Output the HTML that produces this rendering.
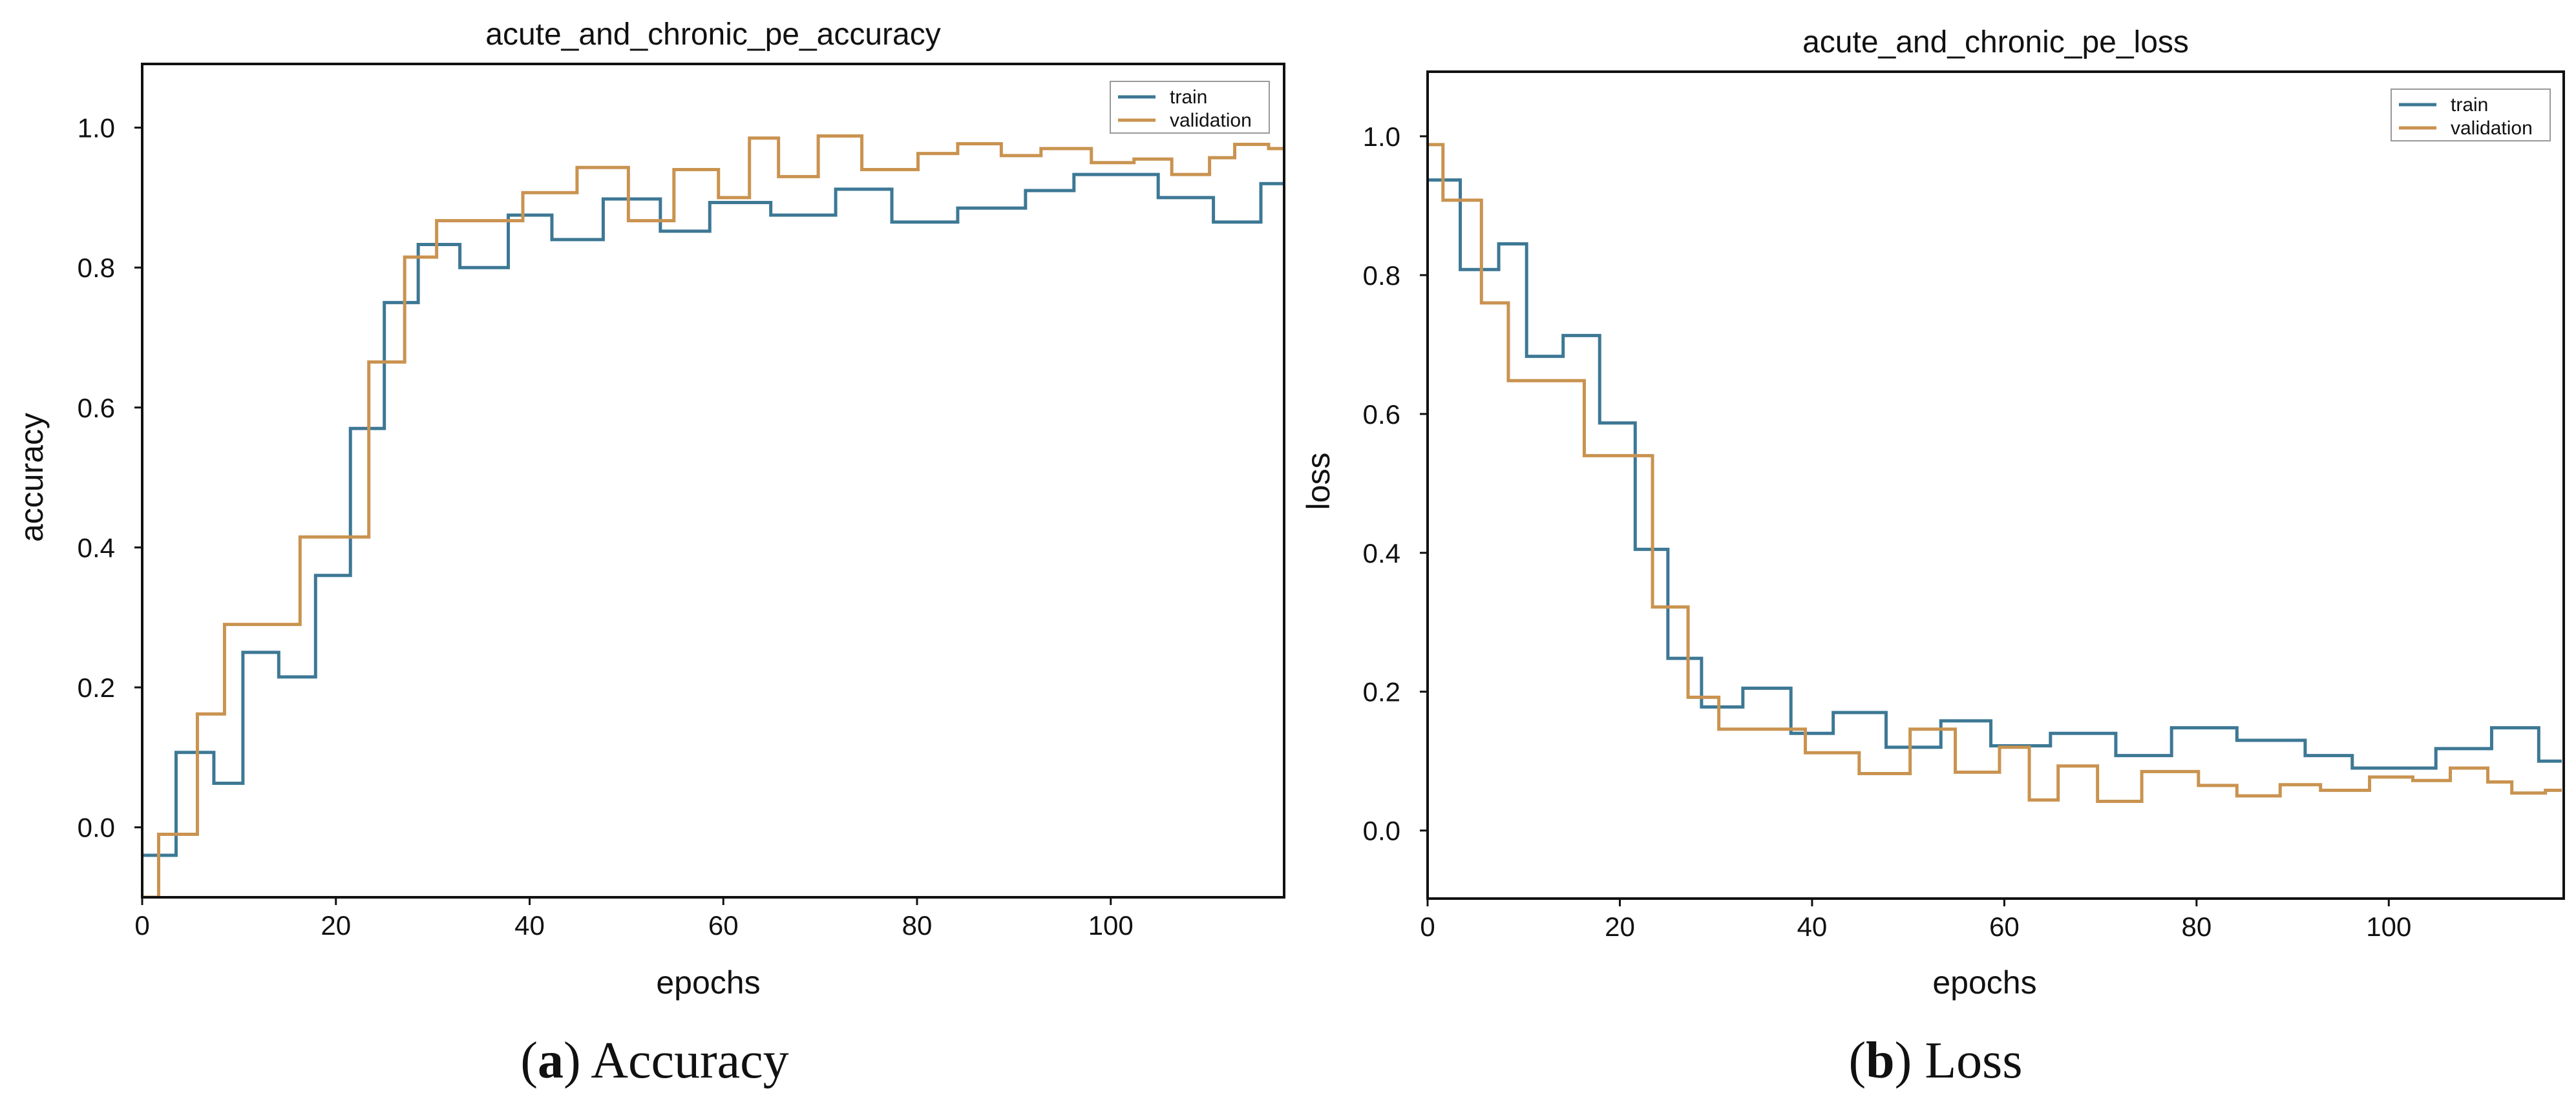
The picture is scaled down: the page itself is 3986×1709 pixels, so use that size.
<!DOCTYPE html>
<html><head><meta charset="utf-8"><style>
html,body{margin:0;padding:0;background:#fff}
svg{display:block}
text{font-family:"Liberation Sans",sans-serif;fill:#111}
</style></head><body>
<svg id="fig" width="3986" height="1709" viewBox="0 0 3986 1709" xmlns="http://www.w3.org/2000/svg"></svg>
<script>
// ---- Accuracy data (step edges in epochs, values) ----
const accTrainEdges=[0,3.5,7.4,10.4,14.1,17.9,21.5,25,28.5,32.8,37.8,42.3,47.6,53.5,58.6,64.9,71.6,77.4,84.2,91.2,96.2,104.9,110.6,115.5,118];
const accTrainVals=[-0.04,0.107,0.063,0.25,0.215,0.36,0.57,0.75,0.833,0.80,0.875,0.84,0.898,0.852,0.893,0.875,0.912,0.865,0.885,0.91,0.933,0.90,0.865,0.92];
const accValEdges=[0,1.7,5.7,8.5,16.3,23.4,27.1,30.4,39.3,44.9,50.2,54.9,59.5,62.7,65.7,69.8,74.3,80.1,84.2,88.7,92.8,98,102.4,106.3,110.2,112.8,116.3,118];
const accValVals=[-0.1,-0.01,0.162,0.29,0.415,0.665,0.815,0.867,0.907,0.943,0.867,0.94,0.90,0.985,0.93,0.988,0.94,0.963,0.977,0.96,0.97,0.95,0.955,0.933,0.957,0.976,0.97];
// ---- Loss data ----
const lossTrainEdges=[0,3.4,7.4,10.3,14.1,17.9,21.6,25,28.5,32.8,37.8,42.2,47.7,53.4,58.6,64.8,71.6,77.4,84.2,91.3,96.2,104.9,110.7,115.6,118];
const lossTrainVals=[0.937,0.808,0.845,0.683,0.713,0.587,0.405,0.248,0.178,0.205,0.14,0.17,0.12,0.158,0.122,0.14,0.108,0.148,0.13,0.108,0.09,0.118,0.148,0.10];
const lossValEdges=[0,1.6,5.6,8.4,16.3,23.4,27.1,30.3,39.3,44.9,50.2,54.9,59.5,62.6,65.6,69.7,74.3,80.2,84.2,88.7,92.9,98,102.5,106.4,110.3,112.8,116.3,118];
const lossValVals=[0.988,0.908,0.76,0.648,0.54,0.322,0.192,0.146,0.112,0.082,0.146,0.084,0.12,0.044,0.093,0.042,0.085,0.065,0.05,0.066,0.058,0.077,0.072,0.09,0.07,0.054,0.058];
const xTicks=[0,20,40,60,80,100];
const yTicks=[0.0,0.2,0.4,0.6,0.8,1.0];

const NS="http://www.w3.org/2000/svg";
const svg=document.getElementById('fig');
function mk(tag,attrs,parent,txt){const e=document.createElementNS(NS,tag);for(const k in attrs)e.setAttribute(k,attrs[k]);if(txt!==undefined)e.textContent=txt;(parent||svg).appendChild(e);return e;}

function panel(cfg){
  const g=mk('g',{});
  
  
  const {x0,x1,y0,y1,xmin,xmax,ymin,ymax}=cfg;
  const X=v=>x0+(v-xmin)/(xmax-xmin)*(x1-x0);
  const Y=v=>y1-(v-ymin)/(ymax-ymin)*(y1-y0);
  const clipId='clip-'+cfg.name;
  const cp=mk('clipPath',{id:clipId},g);mk('rect',{x:x0,y:y0,width:x1-x0,height:y1-y0},cp);
  function step(edges,vals,color,nm){
    let d='';
    for(let i=0;i<vals.length;i++){
      d+=(i===0?'M':'L')+X(edges[i])+' '+Y(vals[i])+' L'+X(edges[i+1])+' '+Y(vals[i]);
    }
    const p=mk('path',{d:d,fill:'none',stroke:color,'stroke-width':5,'clip-path':'url(#'+clipId+')'},g);
    
    
  }
  step(cfg.tE,cfg.tV,'#3d7895',cfg.name+'-train-line');
  step(cfg.vE,cfg.vV,'#c99350',cfg.name+'-validation-line');
  const fr=mk('rect',{x:x0,y:y0,width:x1-x0,height:y1-y0,fill:'none',stroke:'#111','stroke-width':4},g);
  
  
  xTicks.forEach(t=>{
    mk('line',{x1:X(t),x2:X(t),y1:y1,y2:y1+12,stroke:'#111','stroke-width':3},g);
    const tx=mk('text',{x:X(t),y:y1+58,'text-anchor':'middle','font-size':42},g,String(t));
    
    
  });
  yTicks.forEach(t=>{
    mk('line',{x1:x0-12,x2:x0,y1:Y(t),y2:Y(t),stroke:'#111','stroke-width':3},g);
    const tx=mk('text',{x:x0-42,y:Y(t)+15,'text-anchor':'end','font-size':42},g,t.toFixed(1));
    
    
  });
  const ti=mk('text',{x:(x0+x1)/2,y:y0-30,'text-anchor':'middle','font-size':48},g,cfg.title);
  
  
  const xl=mk('text',{x:cfg.xlx,y:1538,'text-anchor':'middle','font-size':50},g,'epochs');
  
  
  const yl=mk('text',{x:0,y:0,'text-anchor':'middle','font-size':50,transform:'translate('+(cfg.ylx+17)+','+cfg.yly+') rotate(-90)'},g,cfg.ylabel);
  
  
  // legend
  const lg=mk('g',{},g);
  
  
  const L=cfg.leg;
  mk('rect',{x:L[0],y:L[1],width:246,height:80,fill:'#fff',stroke:'#999','stroke-width':2},lg);
  mk('line',{x1:L[0]+12,x2:L[0]+70,y1:L[1]+24,y2:L[1]+24,stroke:'#3d7895','stroke-width':5},lg);
  mk('line',{x1:L[0]+12,x2:L[0]+70,y1:L[1]+60,y2:L[1]+60,stroke:'#c99350','stroke-width':5},lg);
  const e1=mk('text',{x:L[0]+92,y:L[1]+34,'font-size':30},lg,'train');
  
  
  const e2=mk('text',{x:L[0]+92,y:L[1]+70,'font-size':30},lg,'validation');
  
  
  // caption
  const cap=mk('text',{x:cfg.capx,y:1668,'text-anchor':'middle','font-size':80,style:'font-family:"Liberation Serif",serif'},g);
  const b=mk('tspan',{},cap,'(');
  const bb=mk('tspan',{'font-weight':'bold'},cap,cfg.letter);
  mk('tspan',{},cap,') '+cfg.caption);
  
  
}

panel({name:'accuracy',x0:220,x1:1987,y0:99,y1:1389,xmin:0,xmax:117.9,ymin:-0.1,ymax:1.091,
  tE:accTrainEdges,tV:accTrainVals,vE:accValEdges,vV:accValVals,title:'acute_and_chronic_pe_accuracy',
  ylabel:'accuracy',xlx:1096,ylx:49,yly:739,leg:[1718,126],capx:1013,letter:'a',caption:'Accuracy'});
panel({name:'loss',x0:2209,x1:3967,y0:111,y1:1391,xmin:0,xmax:118.2,ymin:-0.098,ymax:1.093,
  tE:lossTrainEdges,tV:lossTrainVals,vE:lossValEdges,vV:lossValVals,title:'acute_and_chronic_pe_loss',
  ylabel:'loss',xlx:3071,ylx:2040,yly:745,leg:[3700,138],capx:2995,letter:'b',caption:'Loss'});
</script>
</body></html>
